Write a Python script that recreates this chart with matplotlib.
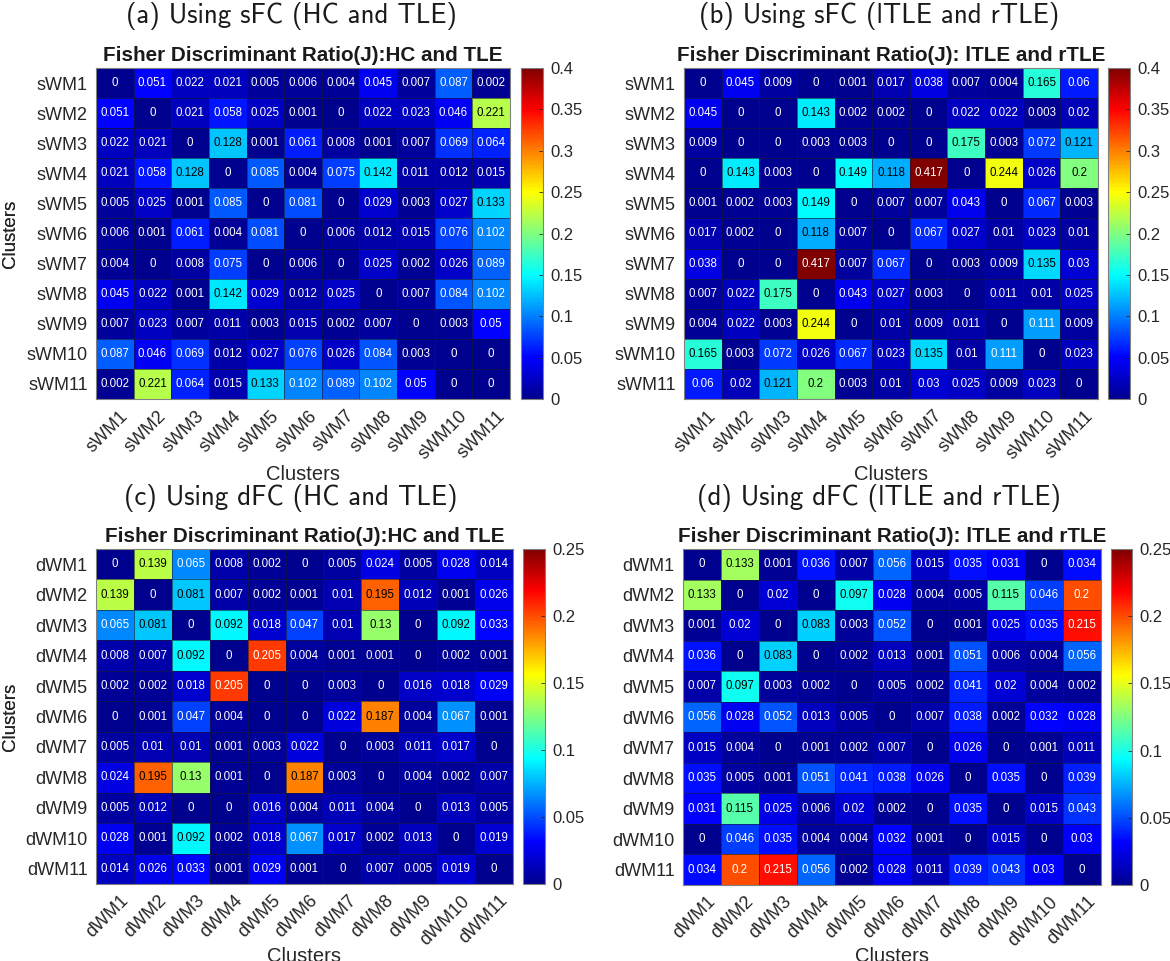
import matplotlib
matplotlib.use('Agg')
import matplotlib.pyplot as plt
import matplotlib.transforms as mtrans
from matplotlib.colors import LinearSegmentedColormap
import numpy as np

plt.rcParams['font.family'] = ['Liberation Sans', 'DejaVu Sans']

W, H = 1170, 961

# Fisher ratio tables, read row by row
sfc_hc_tle = [
    [0, 0.051, 0.022, 0.021, 0.005, 0.006, 0.004, 0.045, 0.007, 0.087, 0.002],
    [0.051, 0, 0.021, 0.058, 0.025, 0.001, 0, 0.022, 0.023, 0.046, 0.221],
    [0.022, 0.021, 0, 0.128, 0.001, 0.061, 0.008, 0.001, 0.007, 0.069, 0.064],
    [0.021, 0.058, 0.128, 0, 0.085, 0.004, 0.075, 0.142, 0.011, 0.012, 0.015],
    [0.005, 0.025, 0.001, 0.085, 0, 0.081, 0, 0.029, 0.003, 0.027, 0.133],
    [0.006, 0.001, 0.061, 0.004, 0.081, 0, 0.006, 0.012, 0.015, 0.076, 0.102],
    [0.004, 0, 0.008, 0.075, 0, 0.006, 0, 0.025, 0.002, 0.026, 0.089],
    [0.045, 0.022, 0.001, 0.142, 0.029, 0.012, 0.025, 0, 0.007, 0.084, 0.102],
    [0.007, 0.023, 0.007, 0.011, 0.003, 0.015, 0.002, 0.007, 0, 0.003, 0.05],
    [0.087, 0.046, 0.069, 0.012, 0.027, 0.076, 0.026, 0.084, 0.003, 0, 0],
    [0.002, 0.221, 0.064, 0.015, 0.133, 0.102, 0.089, 0.102, 0.05, 0, 0],
]
sfc_l_r = [
    [0, 0.045, 0.009, 0, 0.001, 0.017, 0.038, 0.007, 0.004, 0.165, 0.06],
    [0.045, 0, 0, 0.143, 0.002, 0.002, 0, 0.022, 0.022, 0.003, 0.02],
    [0.009, 0, 0, 0.003, 0.003, 0, 0, 0.175, 0.003, 0.072, 0.121],
    [0, 0.143, 0.003, 0, 0.149, 0.118, 0.417, 0, 0.244, 0.026, 0.2],
    [0.001, 0.002, 0.003, 0.149, 0, 0.007, 0.007, 0.043, 0, 0.067, 0.003],
    [0.017, 0.002, 0, 0.118, 0.007, 0, 0.067, 0.027, 0.01, 0.023, 0.01],
    [0.038, 0, 0, 0.417, 0.007, 0.067, 0, 0.003, 0.009, 0.135, 0.03],
    [0.007, 0.022, 0.175, 0, 0.043, 0.027, 0.003, 0, 0.011, 0.01, 0.025],
    [0.004, 0.022, 0.003, 0.244, 0, 0.01, 0.009, 0.011, 0, 0.111, 0.009],
    [0.165, 0.003, 0.072, 0.026, 0.067, 0.023, 0.135, 0.01, 0.111, 0, 0.023],
    [0.06, 0.02, 0.121, 0.2, 0.003, 0.01, 0.03, 0.025, 0.009, 0.023, 0],
]
dfc_hc_tle = [
    [0, 0.139, 0.065, 0.008, 0.002, 0, 0.005, 0.024, 0.005, 0.028, 0.014],
    [0.139, 0, 0.081, 0.007, 0.002, 0.001, 0.01, 0.195, 0.012, 0.001, 0.026],
    [0.065, 0.081, 0, 0.092, 0.018, 0.047, 0.01, 0.13, 0, 0.092, 0.033],
    [0.008, 0.007, 0.092, 0, 0.205, 0.004, 0.001, 0.001, 0, 0.002, 0.001],
    [0.002, 0.002, 0.018, 0.205, 0, 0, 0.003, 0, 0.016, 0.018, 0.029],
    [0, 0.001, 0.047, 0.004, 0, 0, 0.022, 0.187, 0.004, 0.067, 0.001],
    [0.005, 0.01, 0.01, 0.001, 0.003, 0.022, 0, 0.003, 0.011, 0.017, 0],
    [0.024, 0.195, 0.13, 0.001, 0, 0.187, 0.003, 0, 0.004, 0.002, 0.007],
    [0.005, 0.012, 0, 0, 0.016, 0.004, 0.011, 0.004, 0, 0.013, 0.005],
    [0.028, 0.001, 0.092, 0.002, 0.018, 0.067, 0.017, 0.002, 0.013, 0, 0.019],
    [0.014, 0.026, 0.033, 0.001, 0.029, 0.001, 0, 0.007, 0.005, 0.019, 0],
]
dfc_l_r = [
    [0, 0.133, 0.001, 0.036, 0.007, 0.056, 0.015, 0.035, 0.031, 0, 0.034],
    [0.133, 0, 0.02, 0, 0.097, 0.028, 0.004, 0.005, 0.115, 0.046, 0.2],
    [0.001, 0.02, 0, 0.083, 0.003, 0.052, 0, 0.001, 0.025, 0.035, 0.215],
    [0.036, 0, 0.083, 0, 0.002, 0.013, 0.001, 0.051, 0.006, 0.004, 0.056],
    [0.007, 0.097, 0.003, 0.002, 0, 0.005, 0.002, 0.041, 0.02, 0.004, 0.002],
    [0.056, 0.028, 0.052, 0.013, 0.005, 0, 0.007, 0.038, 0.002, 0.032, 0.028],
    [0.015, 0.004, 0, 0.001, 0.002, 0.007, 0, 0.026, 0, 0.001, 0.011],
    [0.035, 0.005, 0.001, 0.051, 0.041, 0.038, 0.026, 0, 0.035, 0, 0.039],
    [0.031, 0.115, 0.025, 0.006, 0.02, 0.002, 0, 0.035, 0, 0.015, 0.043],
    [0, 0.046, 0.035, 0.004, 0.004, 0.032, 0.001, 0, 0.015, 0, 0.03],
    [0.034, 0.2, 0.215, 0.056, 0.002, 0.028, 0.011, 0.039, 0.043, 0.03, 0],
]

s_labels = ['sWM%d' % i for i in range(1, 12)]
d_labels = ['dWM%d' % i for i in range(1, 12)]

captions = ['(a) Using sFC (HC and TLE)', '(b) Using sFC (lTLE and rTLE)',
            '(c) Using dFC (HC and TLE)', '(d) Using dFC (lTLE and rTLE)']
titles = ['Fisher Discriminant Ratio(J):HC and TLE', 'Fisher Discriminant Ratio(J): lTLE and rTLE',
          'Fisher Discriminant Ratio(J):HC and TLE', 'Fisher Discriminant Ratio(J): lTLE and rTLE']
s_ticks = [0, 0.05, 0.1, 0.15, 0.2, 0.25, 0.3, 0.35, 0.4]
d_ticks = [0, 0.05, 0.1, 0.15, 0.2, 0.25]

# pixel boxes: heatmap left, right, top, bottom, colorbar left, right,
# caption x, caption y, xlabel y
boxes = [(96, 510, 68, 399, 521, 543, 291, 16, 475),
         (684, 1098, 68, 399, 1108, 1130, 879, 16, 475),
         (96, 513, 549, 884, 523, 545, 291, 498, 957),
         (683, 1101, 549, 885, 1111, 1132, 879, 498, 957)]

# the jet of the original software, its green falls earlier than matplotlib's
matlab_jet = LinearSegmentedColormap('matlab_jet', {
    'red': [(0, 0, 0), (0.375, 0, 0), (0.625, 1, 1), (0.875, 1, 1), (1, 0.5, 0.5)],
    'green': [(0, 0, 0), (0.125, 0, 0), (0.375, 1, 1), (0.625, 1, 1), (0.875, 0, 0), (1, 0, 0)],
    'blue': [(0, 0.5625, 0.5625), (0.125, 1, 1), (0.375, 1, 1), (0.625, 0, 0), (1, 0, 0)],
}, N=256)


def pix_axes(fig, left, right, top, bottom):
    return fig.add_axes([left / W, 1 - bottom / H, (right - left) / W, (bottom - top) / H])


def draw_panel(fig, data, labels, ticks, caption, title, box):
    left, right, top, bottom, cb_left, cb_right, cap_x, cap_y, xlab_y = box
    data = np.array(data)
    ax = pix_axes(fig, left, right, top, bottom)
    mesh = ax.pcolormesh(data, cmap=matlab_jet, vmin=0, vmax=ticks[-1],
                         edgecolors=(0.1, 0.1, 0.2, 0.6), linewidth=0.6)
    ax.invert_yaxis()
    for r in range(data.shape[0]):
        for c in range(data.shape[1]):
            rgb = mesh.cmap(mesh.norm(data[r, c]))
            lum = 0.2989 * rgb[0] + 0.587 * rgb[1] + 0.114 * rgb[2]
            ax.text(c + 0.5, r + 0.5, '%g' % data[r, c], ha='center', va='center',
                    fontsize=8.3, color='black' if lum > 0.5 else 'white')

    ax.set_xticks(np.arange(11) + 0.5)
    ax.set_yticks(np.arange(11) + 0.5)
    ax.set_xticklabels(labels, rotation=45, ha='right', rotation_mode='anchor', fontsize=13, color='#262626')
    ax.set_yticklabels(labels, fontsize=13, color='#262626')
    ax.tick_params(length=0, pad=6)
    # rotated labels sit a bit to the right of the cell centre
    shift = mtrans.ScaledTranslation(5 / 100, 0, fig.dpi_scale_trans)
    for lab in ax.get_xticklabels():
        lab.set_transform(lab.get_transform() + shift)
    for sp in ax.spines.values():
        sp.set_color('#808080')
        sp.set_linewidth(0.8)

    ax.set_title(title, fontsize=14.9, fontweight='bold', color='#1a1a1a', pad=5)
    fig.text((left + right) / 2 / W, 1 - xlab_y / H, 'Clusters', ha='center', va='center',
             fontsize=14.5, color='#262626')
    fig.text(10 / W, 1 - (top + bottom) / 2 / H, 'Clusters', ha='center', va='center', rotation=90,
             fontsize=13.5, color='#262626')
    fig.text(cap_x / W, 1 - cap_y / H, caption, ha='center', va='center',
             fontsize=19.4, family='cmss10', color='#1a1a1a')

    cax = pix_axes(fig, cb_left, cb_right, top, bottom)
    cb = fig.colorbar(mesh, cax=cax)
    cb.set_ticks(ticks)
    cb.set_ticklabels(['%g' % t for t in ticks])
    cb.ax.tick_params(labelsize=12, direction='in', length=3, width=0.6, pad=5,
                      color='#262626', labelcolor='#262626')
    cb.outline.set_edgecolor('#808080')
    cb.outline.set_linewidth(0.8)


fig = plt.figure(figsize=(W / 100, H / 100), dpi=100, facecolor='white')

draw_panel(fig, sfc_hc_tle, s_labels, s_ticks, captions[0], titles[0], boxes[0])
draw_panel(fig, sfc_l_r, s_labels, s_ticks, captions[1], titles[1], boxes[1])
draw_panel(fig, dfc_hc_tle, d_labels, d_ticks, captions[2], titles[2], boxes[2])
draw_panel(fig, dfc_l_r, d_labels, d_ticks, captions[3], titles[3], boxes[3])

fig.savefig('out.png', dpi=100)
